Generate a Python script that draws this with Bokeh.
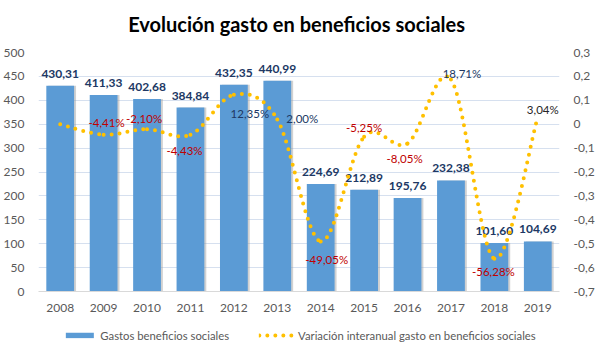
import numpy as np
from bokeh.plotting import figure
from bokeh.layouts import column
from bokeh.models import (Range1d, LinearAxis, FixedTicker, ColumnDataSource,
                          Legend, LegendItem, Label)
from bokeh.embed import file_html
from bokeh.resources import INLINE

# ---------------- data ----------------
title_text = "Evolución  gasto en beneficios sociales"
years = ["2008", "2009", "2010", "2011", "2012", "2013",
         "2014", "2015", "2016", "2017", "2018", "2019"]
gasto = [430.31, 411.33, 402.68, 384.84, 432.35, 440.99,
         224.69, 212.89, 195.76, 232.38, 101.60, 104.69]
variacion = [0.0, -0.0441, -0.0210, -0.0443, 0.1235, 0.0200,
             -0.4905, -0.0525, -0.0805, 0.1871, -0.5628, 0.0304]
gasto_labels = ["430,31", "411,33", "402,68", "384,84", "432,35", "440,99",
                "224,69", "212,89", "195,76", "232,38", "101,60", "104,69"]
variacion_labels = ["", "-4,41%", "-2,10%", "-4,43%", "12,35%", "2,00%",
                    "-49,05%", "-5,25%", "-8,05%", "18,71%", "-56,28%", "3,04%"]
left_ticks = [0, 50, 100, 150, 200, 250, 300, 350, 400, 450, 500]
right_ticks = [-0.7, -0.6, -0.5, -0.4, -0.3, -0.2, -0.1, 0, 0.1, 0.2, 0.3]
right_tick_labels = ["-0,7", "-0,6", "-0,5", "-0,4", "-0,3", "-0,2", "-0,1",
                     "0", "0,1", "0,2", "0,3"]
series_names = ["Gastos beneficios sociales",
                "Variación interanual gasto en beneficios sociales"]

# label placement (screen pixels, relative to the point)
pct_dx = [0, 3, -3, -6, 16, 25, 6, 0, -3, 11, -1, 5]
pct_dy = [0, -12, -11, 16, 19, -1, 18, -9, 15, -6, 13, -7]
pct_colors = ["#203864", "#C00000", "#C00000", "#C00000", "#203864", "#203864",
              "#C00000", "#C00000", "#C00000", "#203864", "#C00000", "#262626"]

FONT = "Lato"
BAR_COLOR = "#5B9BD5"
LINE_COLOR = "#FFC000"
xs = list(range(len(years)))

# ---------------- title strip ----------------
tt = figure(width=597, height=44, output_backend="svg", toolbar_location=None,
            x_axis_type=None, y_axis_type=None, min_border=0,
            outline_line_color=None, x_range=Range1d(0, 1), y_range=Range1d(0, 1))
tt.grid.visible = False
tt.add_layout(Label(x=0.5, y=0.455, text=title_text, text_align="center",
                    text_baseline="middle", text_font=FONT, text_font_size="20px",
                    text_font_style="bold", text_color="#000000"))

# ---------------- main chart ----------------
p = figure(width=597, height=272, output_backend="svg", toolbar_location=None,
           x_range=Range1d(-0.5, len(years) - 0.5), y_range=Range1d(0, 500),
           min_border_left=38, min_border_right=37, min_border_top=8,
           min_border_bottom=25, outline_line_color=None)
p.extra_y_ranges = {"pct": Range1d(-0.7, 0.3)}

# bars (with a soft shadow)
src = ColumnDataSource(dict(x=xs, x_sh=[x + 0.045 for x in xs], top=gasto,
                            lab=gasto_labels))
p.vbar(x="x_sh", top="top", width=0.64, source=src, fill_color="#9A9A9A",
       fill_alpha=0.45, line_color=None)
p.vbar(x="x", top="top", width=0.64, source=src, fill_color=BAR_COLOR,
       line_color=None)
p.text(x="x", y="top", text="lab", source=src, text_align="center",
       text_baseline="middle", y_offset=-12, text_font={"value": FONT},
       text_font_size="12px", text_font_style="bold", text_color="#203864")

# smoothed dotted line (Excel-like smoothing through the data points)
xv = np.array(xs, dtype=float)
yv = np.array(variacion, dtype=float)
n = len(xv)
xp = np.concatenate([[xv[0]], xv, [xv[-1]]])
yp = np.concatenate([[yv[0]], yv, [yv[-1]]])
t = 1.0 / 6.0
bz = dict(x0=[], y0=[], x1=[], y1=[], cx0=[], cy0=[], cx1=[], cy1=[])
for i in range(n - 1):
    a, b = i + 1, i + 2
    bz["x0"].append(xp[a]); bz["y0"].append(yp[a])
    bz["x1"].append(xp[b]); bz["y1"].append(yp[b])
    bz["cx0"].append(xp[a] + (xp[b] - xp[a - 1]) * t)
    bz["cy0"].append(yp[a] + (yp[b] - yp[a - 1]) * t)
    bz["cx1"].append(xp[b] - (xp[b + 1] - xp[a]) * t)
    bz["cy1"].append(yp[b] - (yp[b + 1] - yp[a]) * t)
p.bezier(source=ColumnDataSource(bz), x0="x0", y0="y0", x1="x1", y1="y1",
         cx0="cx0", cy0="cy0", cx1="cx1", cy1="cy1", y_range_name="pct",
         line_color=LINE_COLOR, line_width=4, line_dash="0 8", line_cap="round")

psrc = ColumnDataSource(dict(x=xs, y=variacion, lab=variacion_labels,
                             dx=pct_dx, dy=pct_dy, c=pct_colors))
p.text(x="x", y="y", text="lab", source=psrc, y_range_name="pct",
       x_offset="dx", y_offset="dy", text_align="center", text_baseline="middle",
       text_font={"value": FONT}, text_font_size="11.5px",
       text_color="c")

# axes
p.yaxis.ticker = FixedTicker(ticks=left_ticks)
ax = p.yaxis[0]
ax.axis_line_color = None
ax.major_tick_line_color = None
ax.minor_tick_line_color = None
ax.major_label_text_font = FONT
ax.major_label_text_font_size = "12px"
ax.major_label_text_color = "#595959"
ax.major_label_standoff = 8

right = LinearAxis(y_range_name="pct", ticker=FixedTicker(ticks=right_ticks),
                   major_label_overrides={k: v for k, v in zip(right_ticks, right_tick_labels)})
right.axis_line_color = None
right.major_tick_line_color = None
right.minor_tick_line_color = None
right.major_label_text_font = FONT
right.major_label_text_font_size = "12px"
right.major_label_text_color = "#595959"
right.major_label_standoff = 8
p.add_layout(right, "right")

p.xaxis.ticker = FixedTicker(ticks=xs)
p.xaxis.major_label_overrides = {i: y for i, y in zip(xs, years)}
p.xaxis.axis_line_color = "#D9D9D9"
p.xaxis.major_tick_line_color = None
p.xaxis.minor_tick_line_color = None
p.xaxis.major_label_text_font = FONT
p.xaxis.major_label_text_font_size = "12px"
p.xaxis.major_label_text_color = "#595959"
p.xaxis.major_label_standoff = 6

p.xgrid.grid_line_color = None
p.ygrid.ticker = FixedTicker(ticks=left_ticks)
p.ygrid.grid_line_color = "#D6E0EF"

# ---------------- legend strip ----------------
lg = figure(width=597, height=37, output_backend="svg", toolbar_location=None,
            x_axis_type=None, y_axis_type=None, min_border=0,
            outline_line_color=None, x_range=Range1d(100, 101),
            y_range=Range1d(1000, 1001))
lg.grid.visible = False
bar_proxy = lg.vbar(x=xs, top=gasto, width=0.64, fill_color=BAR_COLOR,
                    line_color=None)
line_proxy = lg.line(x=xs, y=variacion, line_color=LINE_COLOR, line_width=4,
                     line_dash="0 8", line_cap="round")
legend = Legend(items=[LegendItem(label=series_names[0], renderers=[bar_proxy]),
                       LegendItem(label=series_names[1], renderers=[line_proxy])],
                orientation="horizontal", location="center",
                glyph_width=35, glyph_height=7, label_standoff=4, spacing=30,
                padding=0, margin=0, border_line_color=None,
                background_fill_alpha=0,
                label_text_font=FONT, label_text_font_size="11.3px",
                label_text_color="#595959")
lg.add_layout(legend, "center")

open("out.html", "w").write(file_html(column(tt, p, lg, spacing=0), INLINE))
